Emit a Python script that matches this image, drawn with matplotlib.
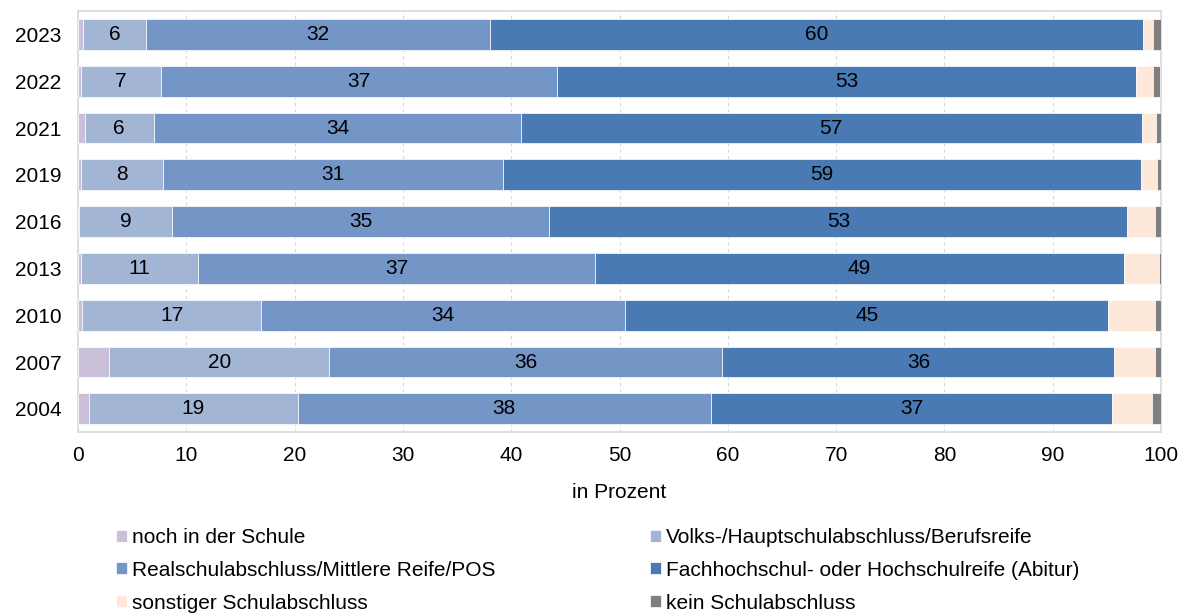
import matplotlib

matplotlib.use("Agg")
import matplotlib.pyplot as plt
import numpy as np

plt.rcParams["font.family"] = ["Liberation Sans", "DejaVu Sans"]

# data (in percent)
years = ["2004", "2007", "2010", "2013", "2016", "2019", "2021", "2022", "2023"]
series_names = [
    "noch in der Schule",
    "Volks-/Hauptschulabschluss/Berufsreife",
    "Realschulabschluss/Mittlere Reife/POS",
    "Fachhochschul- oder Hochschulreife (Abitur)",
    "sonstiger Schulabschluss",
    "kein Schulabschluss",
]
noch_schule = [1.0, 2.9, 0.33, 0.25, 0.1, 0.25, 0.6, 0.25, 0.45]
volks = [19.3, 20.3, 16.6, 10.85, 8.6, 7.6, 6.4, 7.4, 5.8]
real = [38.1, 36.3, 33.6, 36.6, 34.8, 31.4, 33.9, 36.6, 31.8]
abitur = [37.1, 36.2, 44.6, 48.9, 53.4, 58.9, 57.3, 53.4, 60.3]
sonstig = [3.7, 3.7, 4.3, 3.2, 2.55, 1.5, 1.3, 1.6, 0.9]
kein = [0.8, 0.6, 0.8, 0.3, 0.65, 0.4, 0.5, 0.7, 0.8]

colors = ["#CBC0DA", "#A3B5D5", "#7396C6", "#4A7AB4", "#FDE8DA", "#7F7F7F"]
labelled = [False, True, True, True, False, False]

values = [noch_schule, volks, real, abitur, sonstig, kein]
FS = 15

fig = plt.figure(figsize=(11.88, 6.14), dpi=100)
ax = fig.add_axes([0.0657, 0.296, 0.9116, 0.686])

y = np.arange(len(years))
left = np.zeros(len(years))
handles = []
for name, vals, color, lab in zip(series_names, values, colors, labelled):
    vals = np.array(vals)
    bars = ax.barh(y, vals, left=left, height=0.66, color=color,
                   edgecolor="white", linewidth=0.5, label=name, zorder=3)
    if lab:
        ax.bar_label(bars, labels=[f"{v:.0f}" for v in vals], label_type="center",
                     fontsize=FS, color="black")
    handles.append(bars)
    left += vals

ax.set_xlim(0, 100)
ax.set_ylim(-0.5, len(years) - 0.5)
ax.set_yticks(y)
ax.set_yticklabels(years)
ax.set_xticks(range(0, 101, 10))
ax.tick_params(axis="both", length=0, labelsize=FS)
ax.tick_params(axis="y", pad=12)
ax.tick_params(axis="x", pad=10)
ax.set_xlabel("in Prozent", fontsize=FS, labelpad=13)
ax.grid(axis="x", color="#D9D9D9", linestyle=(0, (3, 3)), linewidth=0.8, zorder=0)
for spine in ax.spines.values():
    spine.set_color("#D9D9D9")
    spine.set_linewidth(1.2)

leg_kw = dict(
    loc="upper left",
    frameon=False,
    fontsize=FS,
    handlelength=0.5,
    handleheight=0.5,
    handletextpad=0.25,
    labelspacing=0.66,
    borderpad=0,
)
fig.legend([handles[0], handles[2], handles[4]],
           [series_names[0], series_names[2], series_names[4]],
           bbox_to_anchor=(0.089, 0.157), **leg_kw)
fig.legend([handles[1], handles[3], handles[5]],
           [series_names[1], series_names[3], series_names[5]],
           bbox_to_anchor=(0.5387, 0.157), **leg_kw)

fig.savefig("out.png", dpi=100)
